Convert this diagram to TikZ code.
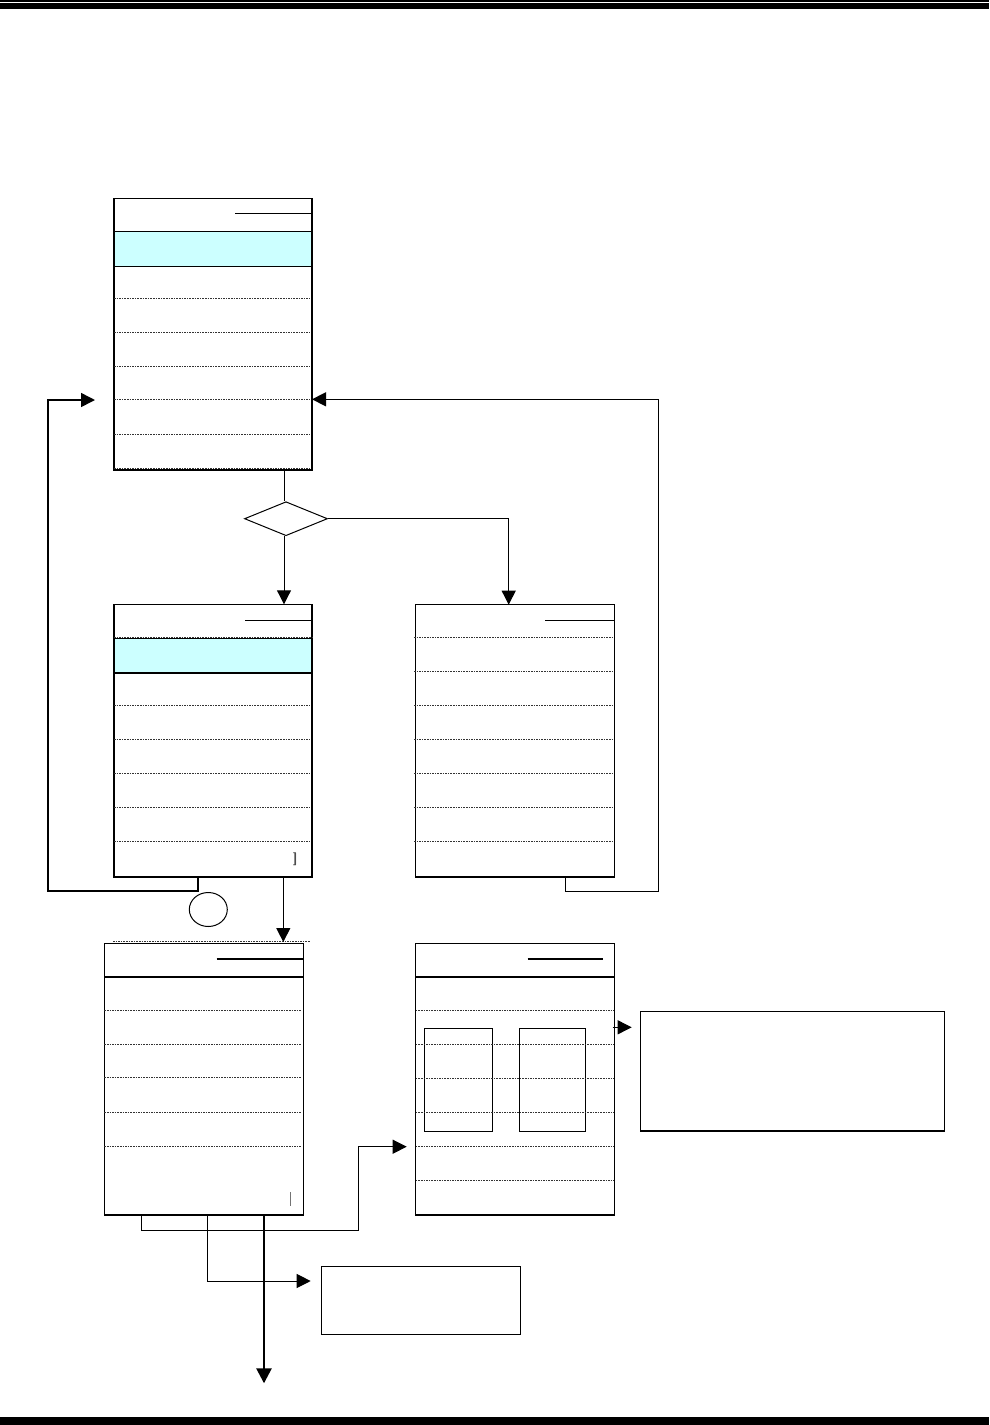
\documentclass[tikz,border=0pt]{standalone}
\usetikzlibrary{arrows.meta,shapes.geometric}
\definecolor{cyanband}{HTML}{CCFFFF}
\tikzset{
  box/.style={draw, line width=#1, inner sep=0pt, outer sep=0pt, anchor=north west},
  dotline/.style={line width=0.8pt, dash pattern=on 1.6pt off 1pt, black!80},
  conn/.style={line width=1pt},
  tipped/.style={-{Triangle[length=14pt,width=14pt]}},
}
\begin{document}
\begin{tikzpicture}[x=1pt,y=-1pt]
\useasboundingbox (0,0) rectangle (989,1425);
% page rules
\fill (0,0) rectangle (989,2);
\fill (0,3.4) rectangle (989,8.7);
\fill (0,1417) rectangle (989,1425);

% cyan bands
\fill[cyanband] (114,231.7) rectangle (312,266.3);
\fill[cyanband] (114,638.5) rectangle (312,673);

% boxes
\node[box=1.6pt, minimum width=198pt, minimum height=271.7pt] (A) at (114,198.3) {};
\node[box=1.6pt, minimum width=198pt, minimum height=272.4pt] (B) at (114,604.3) {};
\node[box=1.3pt, minimum width=199pt, minimum height=272.3pt] (C) at (415.3,604.7) {};
\node[box=1.2pt, minimum width=199pt, minimum height=271.7pt] (D) at (104.3,943.3) {};
\node[box=1.2pt, minimum width=198.6pt, minimum height=271.7pt] (E) at (415.7,943.3) {};
\node[box=1.1pt, minimum width=199.4pt, minimum height=68pt] (F) at (321.3,1266.3) {};
\node[box=1.1pt, minimum width=304pt, minimum height=119.7pt] (G) at (640.3,1011.3) {};
\node[box=1pt, minimum width=68pt, minimum height=103pt] (E1) at (424.3,1028.3) {};
\node[box=1pt, minimum width=66pt, minimum height=103pt] (E2) at (519.3,1028.3) {};
\draw[line width=1.5pt] (E1.north east) -- (E1.south east);
\node[draw, diamond, line width=1pt, inner sep=0pt, minimum width=83pt, minimum height=34pt] (dia) at (286,518.7) {};
\node[draw, ellipse, line width=1pt, inner sep=0pt, minimum width=38pt, minimum height=34pt] (circ) at (208.3,909.5) {};

% box A interior
\draw[line width=1pt] (235,213.3) -- (A.east |- 0,213.3);
\draw[line width=1.2pt] (114,231.7) -- (312,231.7) (114,266.3) -- (312,266.3);
\draw[dotline, line width=1.2pt] (114,298.7) -- (310,298.7);
\foreach \yy in {332.3,366,399.3,434.3,468.3}
  \draw[dotline] (114,\yy) -- (310,\yy);

% box B interior
\draw[line width=1pt] (245,620.3) -- (312,620.3);
\draw[dotline] (114,637) -- (312,637);
\draw[line width=1.1pt] (114,638.5) -- (312,638.5) (114,673) -- (312,673);
\foreach \yy in {705.3,739.7,773.7,807.3,841.3}
  \draw[dotline] (114,\yy) -- (310,\yy);
\node[text=black!70, font=\sffamily\bfseries\fontsize{13}{14}\selectfont, inner sep=0pt] (br) at (295,859) {]};

% box C interior
\draw[line width=1pt] (545.3,620.3) -- (614,620.3);
\foreach \yy in {637.7,671.7,705.3,739.7,773.7,807.3,841.3}
  \draw[dotline] (414,\yy) -- (614,\yy);

% box D interior
\draw[dotline] (113,941.8) -- (310,941.8);
\draw[line width=2pt] (216.7,959) -- (303.3,959);
\draw[line width=1.8pt] (104.3,976.7) -- (303.3,976.7);
\foreach \yy in {1010.3,1044.3,1077.7,1112.3,1146.3}
  \draw[dotline] (104.3,\yy) -- (301,\yy);
\draw[black!55, line width=0.8pt] (290.3,1192) -- (290.3,1206);

% box E interior
\draw[line width=2pt] (527.7,959) -- (602.7,959);
\draw[line width=1.8pt] (415.7,976.7) -- (614.3,976.7);
\foreach \yy in {1010.7,1044.7,1078,1112.3,1146.7,1180}
  \draw[dotline] (415.7,\yy) -- (614.3,\yy);

% connectors
\coordinate (aOut) at (284,470);
\draw[conn] (aOut) -- (aOut |- dia.north);
\draw[conn, tipped] (dia.south -| 284,0) -- (B.north -| 284,0);
\coordinate (cIn) at (508.7,518.7);
\draw[conn, tipped] (dia.east) -- (cIn) -- (cIn |- C.north);

% left loop from B to A
\coordinate (bOut) at (197.7,876.7);
\coordinate (lb) at (48,891);
\coordinate (lt) at (48,400);
\coordinate (lEnd) at (95,400);
\draw[line width=1.6pt, tipped] (bOut) -- (bOut |- lb) -- (lb) -- (lt) -- (lEnd);

% right loop from C to A
\coordinate (cOut) at (565.3,877);
\coordinate (rb) at (658.3,891.7);
\coordinate (rt) at (658.3,399.3);
\draw[line width=1.3pt, tipped] (cOut) -- (cOut |- rb) -- (rb) -- (rt) -- (rt -| A.east);

% B to D
\coordinate (bOut2) at (283.3,876.7);
\draw[conn, tipped] (bOut2) -- (283.3,942);

% D to E
\coordinate (d1) at (141.5,1215);
\coordinate (d1b) at (141.5,1230.3);
\coordinate (d1c) at (358.3,1230.3);
\coordinate (d1t) at (358.3,1146.7);
\coordinate (eIn) at (406.7,1146.7);
\draw[conn, tipped] (d1) -- (d1b) -- (d1c) -- (d1t) -- (eIn);

% D to F
\coordinate (d2) at (207.3,1215);
\coordinate (d2b) at (207.3,1281);
\coordinate (fIn) at (310.7,1281);
\draw[conn, tipped] (d2) -- (d2b) -- (fIn);

% D down (thick)
\coordinate (d3) at (264,1215);
\coordinate (dEnd) at (264,1383.3);
\draw[line width=2.6pt, -{Triangle[length=15pt,width=15pt]}] (d3) -- (dEnd);

% E to G
\coordinate (eOut) at (612.7,1027.3);
\coordinate (gIn) at (631.7,1027.3);
\draw[conn, tipped] (eOut) -- (gIn);
\end{tikzpicture}
\end{document}
